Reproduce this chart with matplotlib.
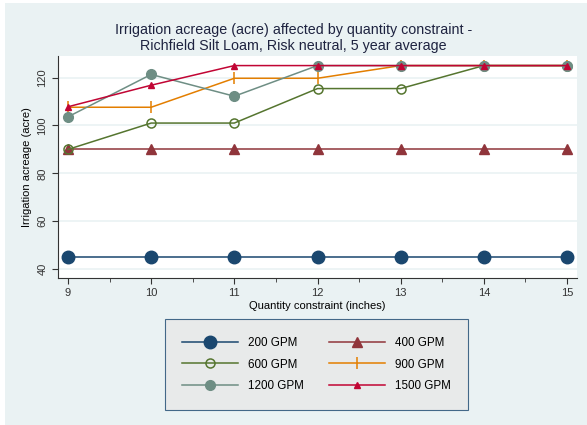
import matplotlib.pyplot as plt
from matplotlib.patches import Rectangle

plt.rcParams['font.family'] = ['Liberation Sans', 'DejaVu Sans']

inches = [9, 10, 11, 12, 13, 14, 15]
gpm200 = [45, 45, 45, 45, 45, 45, 45]
gpm400 = [90, 90, 90, 90, 90, 90, 90]
gpm600 = [90, 101, 101, 115.4, 115.4, 125, 125]
gpm900 = [107.6, 107.6, 119.7, 119.7, 125, 125, 125]
gpm1200 = [103.6, 121.3, 112.2, 125, 125, 125, 125]
gpm1500 = [107.8, 116.8, 125, 125, 125, 125, 125]

fig = plt.figure(figsize=(5.87, 4.25), dpi=100)
fig.patch.set_facecolor('white')
fig.patches.append(Rectangle((5 / 587, 0), 1, 1 - 3 / 425, transform=fig.transFigure,
                             facecolor='#eaf2f3', edgecolor='none', zorder=-10))

ax = fig.add_axes([58 / 587, 1 - 278 / 425, (577 - 58) / 587, (278 - 56) / 425])
ax.set_facecolor('white')

h200, = ax.plot(inches, gpm200, color='#1a476f', marker='o', markersize=9, label='200 GPM', lw=1.1)
h400, = ax.plot(inches, gpm400, color='#90353b', marker='^', markersize=6.5, label='400 GPM', lw=1.1)
h600, = ax.plot(inches, gpm600, color='#55752f', marker='o', markersize=6.5, markerfacecolor='none',
                markeredgewidth=1.1, label='600 GPM', lw=1.1)
h900, = ax.plot(inches, gpm900, color='#e37e00', marker='|', markersize=9, markeredgewidth=1.1,
                label='900 GPM', lw=1.1)
h1200, = ax.plot(inches, gpm1200, color='#6e8e84', marker='o', markersize=7, label='1200 GPM', lw=1.1)
h1500, = ax.plot(inches, gpm1500, color='#c10534', marker='^', markersize=4.5, label='1500 GPM', lw=1.1)

ax.set_xlim(8.88, 15.12)
ax.set_ylim(36.3, 129)
ax.set_xticks(inches)
ax.set_xticks([9.5, 10.5, 11.5, 12.5, 13.5, 14.5], minor=True)
ax.set_yticks([40, 60, 80, 100, 120])
ax.tick_params(axis='y', labelrotation=90, labelsize=8, colors='#333333', length=4)
ax.tick_params(axis='x', labelsize=8, colors='#333333', length=4)
ax.tick_params(axis='x', which='minor', length=3, colors='#333333')
for lbl in ax.get_yticklabels():
    lbl.set_va('center')
ax.grid(axis='y', color='#eaf2f3', lw=1.2)
ax.set_axisbelow(True)
for s in ['top', 'right']:
    ax.spines[s].set_visible(False)
for s in ['left', 'bottom']:
    ax.spines[s].set_color('#333333')

ax.set_xlabel('Quantity constraint (inches)', fontsize=8, labelpad=2)
ax.set_ylabel('Irrigation acreage (acre)', fontsize=8, labelpad=4)

fig.suptitle('Irrigation acreage (acre) affected by quantity constraint -\n'
             'Richfield Silt Loam, Risk neutral, 5 year average',
             fontsize=10.3, y=1 - 23 / 425, va='top', color='#1e2340', linespacing=1.15)

leg = fig.legend(handles=[h200, h600, h1200, h400, h900, h1500], ncol=2,
                 loc='center', bbox_to_anchor=(316.5 / 587, 1 - 364.5 / 425),
                 fontsize=8.4, frameon=True, fancybox=False, handlelength=4.8,
                 columnspacing=2.2, labelspacing=0.85, borderpad=1.5, handletextpad=0.8)
leg.get_frame().set_facecolor('#e8e8e8')
leg.get_frame().set_edgecolor('#1a476f')
leg.get_frame().set_linewidth(0.8)

fig.savefig('out.png', dpi=100)
